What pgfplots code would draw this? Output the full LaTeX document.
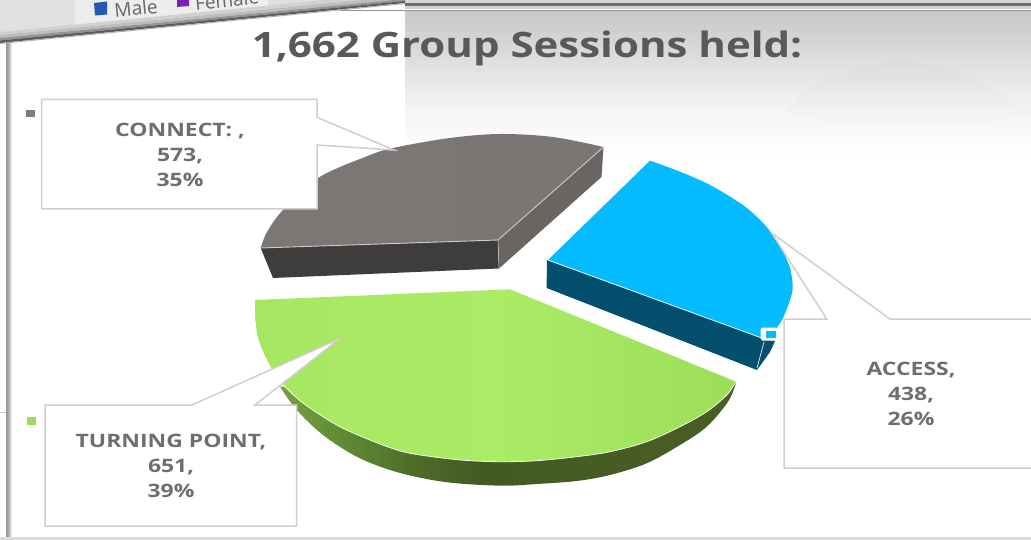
\documentclass[border=0pt]{standalone}
\usepackage{pgfplots}
\pgfplotsset{compat=1.18}
\usepackage{fontspec}
\setmainfont{Open Sans}
\definecolor{titlegray}{HTML}{595959}
\definecolor{labelgray}{HTML}{6E6E6E}
\definecolor{calloutedge}{HTML}{CFCFCF}
\definecolor{connecttop}{HTML}{807B79}
\definecolor{connectfront}{HTML}{3F3C3C}
\definecolor{connectside}{HTML}{6A6563}
\definecolor{accesstop}{HTML}{04BBFF}
\definecolor{accessside}{HTML}{034F6D}
\definecolor{turningA}{HTML}{A6E660}
\definecolor{turningB}{HTML}{ABEC66}
\definecolor{turningC}{HTML}{9DDE58}
\definecolor{malekey}{HTML}{2458B4}
\definecolor{femalekey}{HTML}{7A22B8}
% Header fade: the visible range of the shading runs from 25bp to 75bp
\pgfdeclareverticalshading{headerfade}{100bp}{
  color(0bp)=(white); color(25bp)=(white);
  color(42bp)=(white!96!black);
  color(55bp)=(white!89!black);
  color(67bp)=(white!82.5!black);
  color(75bp)=(white!78.5!black);
  color(100bp)=(white!78.5!black)}
\pgfdeclarehorizontalshading{leftband}{100bp}{
  color(0bp)=(white!58!black); color(25bp)=(white!58!black);
  color(45bp)=(white!68!black);
  color(75bp)=(white); color(100bp)=(white)}
% Rim of the green slice, lit from the left
\definecolor{rimA}{HTML}{76A03E}
\definecolor{rimB}{HTML}{5F8A35}
\definecolor{rimC}{HTML}{4D6C28}
\definecolor{rimD}{HTML}{435A23}
\definecolor{rimE}{HTML}{485E25}
\pgfdeclarehorizontalshading{rimshade}{100bp}{
  color(0bp)=(rimA); color(25bp)=(rimA);
  color(32bp)=(rimB);
  color(40bp)=(rimC);
  color(47bp)=(rimD);
  color(75bp)=(rimE); color(100bp)=(rimE)}
\begin{document}
\begin{tikzpicture}
\begin{axis}[
  scale only axis, width=1031pt, height=540pt,
  xmin=0, xmax=1031, ymin=0, ymax=540, y dir=reverse,
  hide axis, clip=true]

% Page furniture behind the chart
\addplot[fill=white, draw=none] coordinates {(0,0)(1031,0)(1031,540)(0,540)} -- cycle;
\addplot[shading=headerfade, draw=none] coordinates {(405,11)(1031,11)(1031,160)(405,160)} -- cycle;
\addplot[smooth, tension=0.7, fill=blue!30!gray, fill opacity=0.014, draw=none] coordinates
  {(785,112)(800,95)(825,80)(860,68)(900,63)(945,68)(985,84)(1020,105)(1031,114)(980,122)(900,126)(830,122)} -- cycle;
\addplot[fill=white!84!black, draw=none] coordinates {(405,0)(1031,0)(1031,3)(405,3)} -- cycle;
\addplot[fill=white!42!black, draw=none] coordinates {(405,3)(1031,3)(1031,6)(405,6)} -- cycle;
\addplot[fill=white!82!black, draw=none] coordinates {(405,6)(1031,6)(1031,9)(405,9)} -- cycle;
\addplot[fill=white!58!black, draw=none] coordinates {(340,10)(1031,10)(1031,11.5)(340,11.5)} -- cycle;
\addplot[shading=leftband, draw=none] coordinates {(6,40)(12,40)(12,537)(6,537)} -- cycle;
\addplot[fill=white!86!black, draw=none] coordinates {(0,537)(1031,537)(1031,540)(0,540)} -- cycle;
\addplot[draw=white!80!black, line width=0.8pt] coordinates {(0,412)(6,412)};

% Tilted banner along the top left
\addplot[fill=white!88!black, draw=none] coordinates {(0,0)(405,0)(405,2)(0,43)} -- cycle;
\addplot[fill=white!93!black, draw=none] coordinates {(75,0)(268,0)(268,15)(75,34)} -- cycle;
\addplot[fill=white!82!black, draw=none] coordinates {(0,32)(405,-8)(405,-4)(0,35)} -- cycle;
\addplot[fill=white!74!black, draw=none] coordinates {(0,35)(405,-4)(405,-1)(0,38)} -- cycle;
\addplot[fill=white!58!black, draw=none] coordinates {(0,38)(405,-1)(405,1)(0,40.5)} -- cycle;
\addplot[fill=white!36!black, draw=none] coordinates {(0,40.5)(405,1)(405,3)(0,43)} -- cycle;
\addplot[fill=white!70!black, draw=none] coordinates {(0,43)(405,3)(405,4)(0,44)} -- cycle;
\addplot[fill=malekey, draw=none] coordinates {(94,3)(107,1.5)(107,14.5)(95,15.5)} -- cycle;
\addplot[fill=femalekey, draw=none] coordinates {(177,0)(189,0)(189,6)(177,7)} -- cycle;

% CONNECT slice
\addplot[fill=connectfront, draw=none] coordinates {(260.7,248)(498,240)(499,268.5)(273,278)} -- cycle;
\addplot[fill=connectside, draw=none] coordinates {(498,240)(603.5,147)(601.5,177)(499,268.5)} -- cycle;
\addplot[smooth, tension=0.55, left color=connecttop!103!white, right color=connecttop!96!black, draw=none] coordinates
  {(260.7,248)(267,232)(283,210)(318,178)(365,157)(393,148)(450,138)(500,134)(553,137)(603.5,147)} -- (axis cs:498,240) -- cycle;
\addplot[draw=white!80!black, line width=0.9pt] coordinates {(260.7,248)(498,240)(603.5,147)};
\addplot[draw=white!75!black, line width=0.6pt] coordinates {(498,240)(499,268.5)};

% ACCESS slice
\addplot[fill=accessside, draw=none] coordinates {(547,260)(762,338)(775,341)(770,352)(757,370)(546.6,288)} -- cycle;
\addplot[draw=white!80!accessside, line width=0.8pt] coordinates {(764,342)(757,368)};
\addplot[smooth, tension=0.55, fill=accesstop, draw=none] coordinates
  {(650,160.7)(680,171.7)(710,185)(740,203)(756.7,216.7)(771.7,233)(783,251.7)(790,268)(792.7,286.7)(790,300)(783,318)(776.7,328)(770,339)}
  -- (axis cs:761.7,338) -- (axis cs:548,260) -- cycle;
\addplot[draw=white!85!accesstop, line width=0.8pt] coordinates {(548,260)(761.7,338)};
\addplot[fill=white, draw=white, line width=1pt, rounded corners=1.5pt] coordinates {(761,328)(777,328)(777,340)(761,340)} -- cycle;
\addplot[fill=accesstop, draw=none] coordinates {(766,331)(776,331)(776,338)(766,338)} -- cycle;

% TURNING POINT slice
\addplot[smooth, tension=0.55, shading=rimshade, draw=none] coordinates
  {(280,386.7)(296.7,410)(323,435)(356.7,456.7)(390,470)(423,478.3)(456.7,483.3)(503,485.7)(536.7,484)(576.7,481)(610,475)(646.7,463.3)(680,445)(706.7,426.7)(728,401.7)(736,383)} -- cycle;
\addplot[smooth, tension=0.55, left color=turningA, right color=turningC, middle color=turningB, draw=none] coordinates
  {(736,381.7)(726.7,395)(706.7,411.7)(680,426.7)(646.7,441.7)(610,451.7)(576.7,456.7)(536.7,460.7)(503,461.7)(470,460.7)(436.7,457.3)
   (403,451.7)(370,440)(336.7,425)(303,403)(283.3,385)(267,360)(257,333)(255,300)} -- (axis cs:510,289.3) -- cycle;
\addplot[smooth, tension=0.55, draw=white!85!turningB, line width=0.8pt] coordinates
  {(283.3,385)(303,403)(336.7,425)(370,440)(403,451.7)(436.7,457.3)(470,460.7)(503,461.7)(536.7,460.7)(576.7,456.7)(610,451.7)(646.7,441.7)(680,426.7)(706.7,411.7)(726.7,395)(736,381.7)};

% Legend keys
\addplot[fill=connecttop, draw=none] coordinates {(26,110)(35,110)(35,117.5)(26,117.5)} -- cycle;
\addplot[fill=turningC, draw=none] coordinates {(27,417)(36,417)(36,425)(27,425)} -- cycle;

% Callout outlines
\addplot[fill=white, draw=calloutedge, line width=1.5pt] coordinates
  {(41.7,99.3)(317,99.3)(317,117.3)(394,150)(317,145)(317,209)(41.7,209)} -- cycle;
\addplot[fill=white, draw=calloutedge, line width=1.5pt] coordinates
  {(45,405)(192,405)(340,338.5)(255,405)(296.7,405)(296.7,526)(45,526)} -- cycle;
\addplot[fill=white, draw=calloutedge, line width=1.5pt] coordinates
  {(784,319)(826.7,319)(771.7,233)(890,319)(1040,319)(1040,468)(784,468)} -- cycle;

% Text
\node[text=titlegray, font=\fontsize{35}{40}\selectfont\bfseries, transform shape, xscale=1.2] at (axis cs:527,48) {1,662 Group Sessions held:};
\node[text=labelgray, font=\fontsize{18.5}{25}\selectfont\bfseries, align=center, transform shape, xscale=1.24] at (axis cs:180,155) {CONNECT: ,\\573,\\35\%};
\node[text=labelgray, font=\fontsize{18.5}{25}\selectfont\bfseries, align=center, transform shape, xscale=1.24] at (axis cs:171,466) {TURNING POINT,\\651,\\39\%};
\node[text=labelgray, font=\fontsize{18.5}{25}\selectfont\bfseries, align=center, transform shape, xscale=1.24] at (axis cs:911,394) {ACCESS,\\438,\\26\%};
\node[text=white!40!black, font=\fontsize{19}{20}\selectfont, rotate=5.7] at (axis cs:136,8) {Male};
\node[text=white!40!black, font=\fontsize{19}{20}\selectfont, rotate=5.7] at (axis cs:227,0) {Female};
\end{axis}
\end{tikzpicture}
\end{document}
